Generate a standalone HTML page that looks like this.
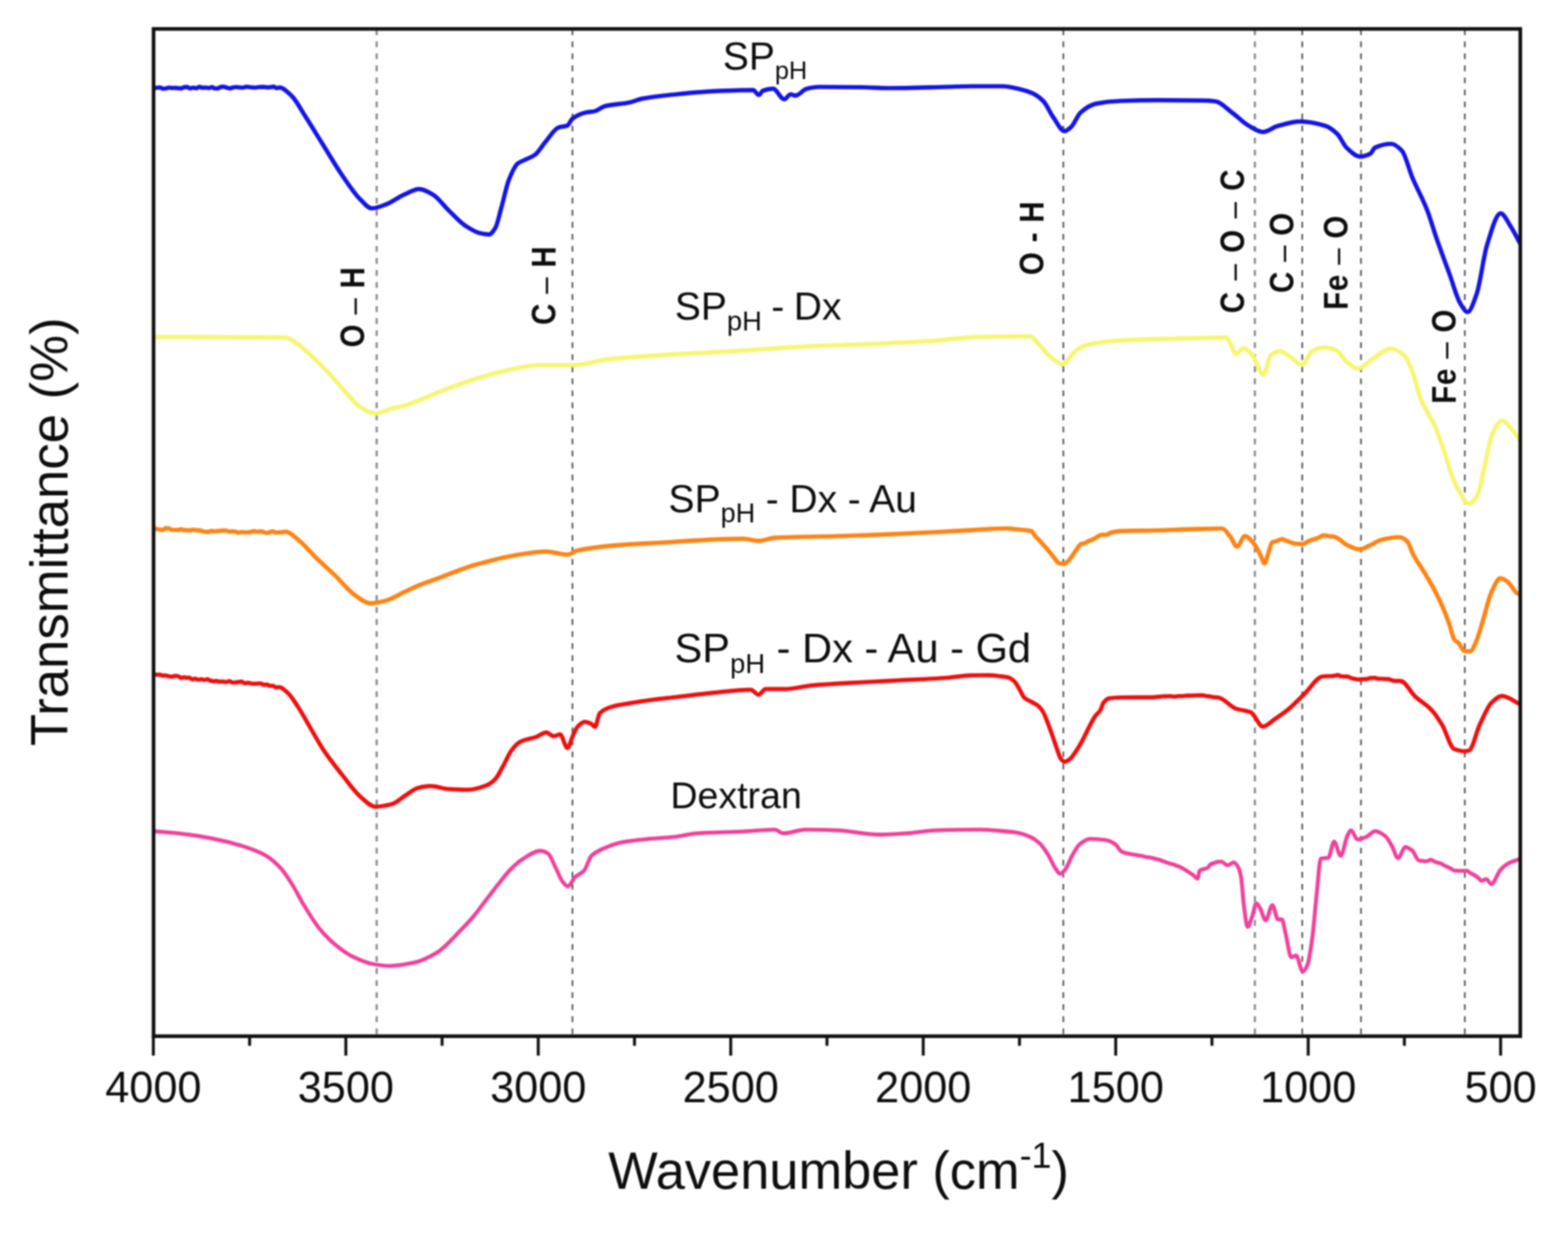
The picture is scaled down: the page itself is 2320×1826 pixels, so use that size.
<!DOCTYPE html>
<html><head><meta charset="utf-8"><title>FTIR spectra</title>
<style>html,body{margin:0;padding:0;background:#fff;}svg{display:block;}#w{filter:blur(1px);width:2320px;height:1826px;}text{font-family:"Liberation Sans",Arial,sans-serif;fill:#0d0d0d;}.pk{font-weight:bold;font-size:49.5px;}</style></head><body>
<div id="w"><svg width="2320" height="1826" viewBox="0 0 2320 1826">
<rect x="0" y="0" width="2320" height="1826" fill="#fff"/>
<line x1="557.3" y1="43.4" x2="557.3" y2="1531.3" stroke="#8a8a8a" stroke-width="3.2" stroke-dasharray="8.6 9.21"/>
<line x1="847.0" y1="43.4" x2="847.0" y2="1531.3" stroke="#505050" stroke-width="2.4" stroke-dasharray="8.6 9.21"/>
<line x1="1573.3" y1="43.4" x2="1573.3" y2="1531.3" stroke="#505050" stroke-width="2.4" stroke-dasharray="8.6 9.21"/>
<line x1="1856.7" y1="43.4" x2="1856.7" y2="1531.3" stroke="#8a8a8a" stroke-width="3.2" stroke-dasharray="8.6 9.21"/>
<line x1="1926.8" y1="43.4" x2="1926.8" y2="1531.3" stroke="#505050" stroke-width="2.4" stroke-dasharray="8.6 9.21"/>
<line x1="2013.7" y1="43.4" x2="2013.7" y2="1531.3" stroke="#505050" stroke-width="2.4" stroke-dasharray="8.6 9.21"/>
<line x1="2167.3" y1="43.4" x2="2167.3" y2="1531.3" stroke="#505050" stroke-width="2.4" stroke-dasharray="8.6 9.21"/>
<defs><clipPath id="cp"><rect x="227.2" y="42.8" width="2022.2" height="1490.5"/></clipPath></defs>
<g clip-path="url(#cp)" fill="none" stroke-width="6.4" stroke-linejoin="round" stroke-linecap="round">
<path d="M229.0,1230.0C241.4,1231.1 253.7,1232.0 266.1,1233.4C281.5,1235.1 296.8,1237.4 312.2,1240.3C327.5,1243.2 342.9,1247.0 358.2,1251.8C369.7,1255.4 381.3,1259.3 392.8,1265.7C400.5,1270.0 408.2,1277.0 415.9,1285.3C421.3,1291.1 426.6,1299.9 432.0,1308.3C438.1,1317.9 444.3,1330.6 450.4,1340.6C458.1,1353.0 465.7,1365.9 473.4,1375.1C481.1,1384.3 488.8,1391.9 496.5,1398.2C504.2,1404.5 511.8,1410.5 519.5,1414.3C531.0,1420.0 542.6,1425.3 554.1,1427.0C561.8,1428.2 569.4,1429.3 577.1,1429.3C588.6,1429.3 600.2,1427.0 611.7,1424.7C623.2,1422.4 634.8,1416.5 646.3,1409.7C657.8,1402.9 669.3,1389.0 680.8,1377.4C687.2,1370.9 693.6,1364.3 700.0,1356.7C706.1,1349.5 712.3,1340.7 718.4,1332.7C724.6,1324.7 730.7,1316.5 736.9,1308.8C743.0,1301.1 749.2,1292.7 755.3,1286.6C761.4,1280.5 767.6,1274.7 773.7,1271.0C782.3,1265.7 790.9,1259.0 799.5,1259.0C803.2,1259.0 806.9,1260.6 810.6,1262.7C814.3,1264.8 818.0,1275.9 821.7,1283.0C825.4,1290.0 829.0,1300.8 832.7,1305.1C835.2,1308.0 837.6,1311.5 840.1,1311.5C843.8,1311.5 847.5,1301.1 851.2,1297.7C855.5,1293.8 859.8,1293.1 864.1,1288.5C867.8,1284.6 871.4,1270.0 875.1,1266.4C881.2,1260.4 887.4,1258.0 893.5,1255.3C902.7,1251.3 912.0,1247.8 921.2,1246.1C933.5,1243.8 945.8,1242.7 958.1,1241.5C970.4,1240.3 982.6,1239.9 994.9,1238.7C1007.2,1237.5 1019.5,1234.0 1031.8,1233.2C1054.5,1231.6 1077.3,1231.5 1100.0,1230.4C1115.3,1229.6 1130.7,1227.6 1146.0,1227.6C1150.3,1227.6 1154.7,1233.2 1159.0,1233.2C1170.1,1233.2 1181.1,1227.6 1192.2,1227.6C1207.5,1227.6 1222.9,1228.1 1238.2,1228.6C1259.7,1229.3 1281.3,1235.0 1302.8,1235.0C1315.1,1235.0 1327.3,1234.0 1339.6,1233.2C1355.0,1232.2 1370.3,1229.0 1385.7,1228.6C1407.2,1228.0 1428.7,1227.6 1450.2,1227.6C1460.1,1227.6 1470.1,1228.7 1480.0,1229.5C1487.4,1230.1 1494.7,1230.6 1502.1,1231.7C1509.5,1232.8 1516.8,1235.1 1524.2,1238.3C1529.1,1240.4 1534.1,1244.1 1539.0,1248.7C1542.9,1252.4 1546.9,1258.7 1550.8,1264.9C1554.2,1270.3 1557.7,1279.2 1561.1,1284.1C1563.6,1287.6 1566.0,1292.9 1568.5,1292.9C1571.0,1292.9 1573.4,1289.7 1575.9,1287.0C1579.3,1283.2 1582.8,1272.3 1586.2,1266.4C1590.1,1259.6 1594.1,1251.7 1598.0,1248.7C1602.9,1244.9 1607.8,1241.3 1612.7,1241.3C1620.1,1241.3 1627.4,1241.9 1634.8,1242.8C1639.7,1243.4 1644.7,1245.7 1649.6,1248.7C1653.0,1250.8 1656.5,1259.1 1659.9,1260.5C1666.3,1263.1 1672.7,1263.8 1679.1,1264.9C1681.1,1265.2 1683.0,1265.5 1685.0,1265.8C1686.7,1266.0 1688.3,1266.3 1690.0,1266.6C1691.7,1267.0 1693.3,1267.7 1695.0,1268.0C1696.7,1268.3 1698.3,1268.4 1700.0,1268.7C1701.7,1268.9 1703.3,1269.2 1705.0,1269.6C1706.7,1269.9 1708.3,1270.6 1710.0,1271.0C1712.0,1271.5 1714.0,1271.7 1716.0,1272.3C1717.7,1272.8 1719.3,1273.9 1721.0,1274.6C1722.7,1275.2 1724.3,1275.6 1726.0,1276.2C1727.7,1276.7 1729.3,1277.4 1731.0,1277.9C1732.7,1278.3 1734.3,1278.5 1736.0,1279.0C1737.7,1279.5 1739.3,1280.5 1741.0,1281.1C1742.5,1281.7 1743.9,1282.0 1745.4,1282.6C1747.1,1283.3 1748.7,1284.4 1750.4,1285.3C1752.1,1286.2 1753.7,1287.1 1755.4,1288.2C1757.0,1289.1 1758.6,1290.3 1760.2,1291.4C1761.9,1292.5 1763.5,1293.5 1765.2,1294.7C1767.5,1296.4 1769.7,1300.3 1772.0,1300.3C1773.0,1300.3 1773.9,1289.3 1774.9,1288.5C1778.8,1285.3 1782.8,1286.5 1786.7,1284.1C1788.2,1283.2 1789.7,1279.7 1791.2,1279.0C1796.4,1276.5 1801.5,1274.8 1806.7,1274.8C1810.0,1274.8 1813.2,1280.4 1816.5,1280.4C1819.3,1280.4 1822.2,1276.2 1825.0,1276.2C1827.3,1276.2 1829.7,1279.4 1832.0,1283.2C1833.4,1285.5 1834.8,1290.3 1836.2,1297.3C1837.6,1304.3 1839.0,1329.0 1840.4,1339.4C1842.3,1353.2 1844.1,1371.7 1846.0,1371.7C1848.4,1371.7 1850.7,1361.4 1853.1,1354.9C1855.0,1349.7 1856.8,1336.6 1858.7,1336.6C1860.6,1336.6 1862.4,1340.7 1864.3,1343.6C1867.1,1348.0 1869.9,1361.9 1872.7,1361.9C1876.0,1361.9 1879.3,1339.4 1882.6,1339.4C1885.4,1339.4 1888.2,1360.5 1891.0,1360.5C1892.9,1360.5 1894.7,1360.5 1896.6,1360.5C1898.5,1360.5 1900.3,1374.3 1902.2,1381.6C1905.0,1392.7 1907.9,1416.7 1910.7,1416.7C1913.0,1416.7 1915.4,1413.9 1917.7,1413.9C1921.0,1413.9 1924.2,1437.8 1927.5,1437.8C1929.8,1437.8 1932.2,1433.1 1934.5,1427.9C1936.9,1422.6 1939.2,1405.5 1941.6,1388.6C1943.9,1371.9 1946.3,1339.7 1948.6,1318.3C1950.5,1301.1 1952.3,1271.1 1954.2,1270.6C1957.9,1269.6 1961.7,1270.1 1965.4,1269.2C1968.2,1268.5 1971.1,1245.3 1973.9,1245.3C1977.2,1245.3 1980.4,1266.4 1983.7,1266.4C1987.0,1266.4 1990.2,1243.5 1993.5,1236.9C1995.2,1233.4 1997.0,1228.6 1998.7,1228.6C2002.0,1228.6 2005.4,1242.3 2008.7,1242.3C2012.8,1242.3 2017.0,1240.3 2021.1,1238.6C2025.7,1236.8 2030.2,1229.9 2034.8,1229.9C2039.8,1229.9 2044.7,1233.5 2049.7,1237.3C2053.0,1239.9 2056.4,1246.6 2059.7,1252.3C2062.6,1257.3 2065.5,1269.7 2068.4,1269.7C2072.1,1269.7 2075.9,1253.5 2079.6,1253.5C2082.9,1253.5 2086.2,1256.0 2089.5,1258.5C2092.8,1261.0 2096.2,1272.9 2099.5,1273.4C2101.3,1273.7 2103.2,1273.6 2105.0,1273.9C2106.1,1274.0 2107.1,1274.7 2108.2,1274.7C2109.9,1274.7 2111.5,1274.2 2113.2,1273.8C2114.4,1273.5 2115.7,1272.2 2116.9,1272.2C2118.6,1272.2 2120.2,1273.8 2121.9,1274.5C2123.6,1275.2 2125.2,1275.8 2126.9,1276.4C2129.0,1277.1 2131.0,1277.5 2133.1,1278.4C2134.8,1279.1 2136.4,1280.6 2138.1,1281.4C2139.8,1282.2 2141.4,1282.6 2143.1,1283.3C2144.8,1284.1 2146.4,1285.2 2148.1,1286.1C2149.3,1286.8 2150.6,1288.2 2151.8,1288.3C2153.5,1288.4 2155.1,1288.4 2156.8,1288.5C2158.5,1288.5 2160.1,1288.5 2161.8,1288.6C2163.5,1288.6 2165.1,1288.7 2166.8,1288.7C2168.0,1288.7 2169.2,1288.3 2170.4,1288.3C2172.1,1288.3 2173.7,1290.7 2175.4,1291.8C2177.9,1293.3 2180.4,1294.2 2182.9,1295.8C2184.6,1296.9 2186.2,1298.2 2187.9,1299.6C2189.1,1300.7 2190.4,1303.3 2191.6,1303.3C2194.1,1303.3 2196.5,1300.8 2199.0,1300.8C2201.5,1300.8 2204.0,1308.2 2206.5,1308.2C2211.1,1308.2 2215.6,1291.9 2220.2,1287.1C2224.3,1282.7 2228.5,1279.2 2232.6,1277.1C2238.1,1274.3 2243.5,1273.0 2249.0,1271.0" stroke="#f0419a" stroke-width="5.8"/>
<path d="M229.0,998.4C231.5,998.4 234.0,998.4 236.5,998.4C238.0,998.4 239.5,999.7 241.0,999.7C242.5,999.7 244.0,999.7 245.5,999.7C247.0,999.7 248.5,1000.5 250.0,1000.8C251.5,1001.0 253.0,1001.3 254.5,1001.3C256.0,1001.3 257.5,1000.2 259.0,1000.2C260.5,1000.2 262.0,1000.3 263.5,1000.5C265.0,1000.6 266.5,1003.2 268.0,1003.2C269.5,1003.2 271.0,1002.0 272.5,1002.0C273.4,1002.0 274.4,1003.0 275.3,1003.0C276.8,1003.0 278.3,1002.7 279.8,1002.7C281.3,1002.7 282.8,1005.3 284.3,1005.3C285.8,1005.3 287.3,1004.3 288.8,1004.3C290.3,1004.3 291.8,1005.8 293.3,1005.8C294.8,1005.8 296.3,1005.2 297.8,1005.2C299.3,1005.2 300.8,1006.1 302.3,1006.1C303.8,1006.1 305.3,1005.2 306.8,1005.2C308.3,1005.2 309.8,1006.6 311.3,1007.0C312.8,1007.5 314.3,1008.1 315.8,1008.1C317.3,1008.1 318.8,1007.6 320.3,1007.6C321.8,1007.6 323.3,1008.7 324.8,1008.7C326.7,1008.7 328.7,1008.6 330.6,1008.6C332.1,1008.6 333.6,1009.3 335.1,1009.3C336.6,1009.3 338.1,1007.8 339.6,1007.8C341.1,1007.8 342.6,1010.0 344.1,1010.0C345.6,1010.0 347.1,1009.9 348.6,1009.7C350.1,1009.6 351.6,1009.3 353.1,1009.1C354.6,1009.0 356.1,1008.6 357.6,1008.6C359.1,1008.6 360.6,1011.2 362.1,1011.2C363.6,1011.2 365.1,1010.3 366.6,1010.3C368.1,1010.3 369.6,1010.9 371.1,1011.2C372.6,1011.4 374.1,1011.9 375.6,1011.9C377.1,1011.9 378.6,1011.7 380.1,1011.6C382.0,1011.5 384.0,1011.3 385.9,1011.3C387.4,1011.3 388.9,1013.4 390.4,1013.4C391.9,1013.4 393.4,1012.8 394.9,1012.8C396.4,1012.8 397.9,1014.9 399.4,1014.9C400.9,1014.9 402.4,1014.8 403.9,1014.8C405.4,1014.8 406.9,1017.1 408.4,1017.1C410.1,1017.1 411.8,1016.9 413.5,1016.9C417.8,1016.9 422.2,1022.1 426.5,1026.1C431.4,1030.7 436.3,1039.0 441.2,1046.4C447.3,1055.7 453.5,1067.3 459.6,1077.7C465.8,1088.2 471.9,1099.7 478.1,1109.0C487.3,1122.8 496.5,1134.3 505.7,1145.9C514.9,1157.6 524.2,1171.3 533.4,1179.1C540.8,1185.3 548.1,1193.8 555.5,1193.8C563.5,1193.8 571.4,1192.1 579.4,1190.1C586.3,1188.4 593.1,1181.2 600.0,1177.0C606.1,1173.2 612.3,1167.4 618.4,1165.9C624.6,1164.4 630.7,1163.1 636.9,1163.1C646.1,1163.1 655.3,1167.2 664.5,1167.7C673.7,1168.2 683.0,1168.7 692.2,1168.7C701.4,1168.7 710.6,1165.7 719.8,1162.2C724.1,1160.6 728.4,1157.3 732.7,1153.0C736.4,1149.3 740.1,1141.1 743.8,1134.6C748.1,1127.1 752.4,1116.2 756.7,1110.6C761.0,1105.0 765.3,1099.8 769.6,1097.7C777.6,1093.7 785.5,1093.2 793.5,1090.3C798.4,1088.5 803.4,1083.9 808.3,1083.9C812.0,1083.9 815.7,1089.4 819.4,1089.4C822.5,1089.4 825.5,1086.6 828.6,1086.6C832.3,1086.6 835.9,1106.9 839.6,1106.9C842.1,1106.9 844.5,1095.5 847.0,1090.3C849.5,1085.1 851.9,1078.2 854.4,1075.6C858.1,1071.8 861.7,1068.2 865.4,1068.2C868.5,1068.2 871.6,1069.6 874.7,1071.0C876.5,1071.8 878.4,1075.6 880.2,1075.6C882.7,1075.6 885.1,1057.8 887.6,1055.3C893.1,1049.7 898.6,1047.8 904.1,1046.1C913.3,1043.3 922.6,1042.2 931.8,1040.6C944.1,1038.5 956.4,1036.6 968.7,1035.0C979.1,1033.7 989.6,1032.7 1000.0,1031.5C1018.4,1029.4 1036.9,1027.0 1055.3,1025.2C1073.7,1023.4 1092.2,1020.6 1110.6,1020.6C1114.6,1020.6 1118.6,1027.9 1122.6,1027.9C1126.0,1027.9 1129.3,1019.6 1132.7,1019.6C1141.9,1019.6 1151.2,1019.6 1160.4,1019.6C1174.5,1019.6 1188.7,1015.3 1202.8,1014.1C1227.4,1012.0 1251.9,1010.9 1276.5,1009.5C1294.9,1008.5 1313.4,1007.7 1331.8,1006.7C1354.5,1005.5 1377.3,1004.6 1400.0,1003.0C1412.3,1002.1 1424.6,999.6 1436.9,999.4C1445.3,999.3 1453.6,999.2 1462.0,999.2C1468.0,999.2 1474.0,1000.0 1480.0,1000.6C1484.1,1001.0 1488.1,1001.4 1492.2,1002.5C1495.3,1003.3 1498.4,1005.9 1501.5,1009.0C1503.7,1011.2 1505.9,1015.7 1508.1,1019.3C1510.6,1023.4 1513.1,1030.2 1515.6,1032.5C1519.3,1035.9 1523.1,1036.8 1526.8,1039.0C1529.9,1040.8 1533.1,1042.0 1536.2,1044.6C1538.7,1046.6 1541.2,1049.9 1543.7,1054.0C1545.9,1057.7 1548.1,1064.3 1550.3,1069.9C1552.8,1076.3 1555.3,1083.5 1557.8,1090.5C1560.0,1096.6 1562.1,1103.5 1564.3,1109.3C1566.2,1114.3 1568.0,1121.3 1569.9,1123.3C1571.8,1125.3 1573.6,1127.1 1575.5,1127.1C1578.0,1127.1 1580.5,1125.1 1583.0,1123.3C1586.1,1121.1 1589.3,1115.7 1592.4,1111.1C1595.5,1106.5 1598.7,1101.0 1601.8,1095.2C1604.9,1089.5 1608.0,1082.4 1611.1,1076.5C1614.2,1070.6 1617.4,1063.9 1620.5,1059.6C1623.0,1056.2 1625.5,1055.1 1628.0,1051.2C1629.6,1048.7 1631.1,1041.9 1632.7,1040.0C1635.5,1036.5 1638.3,1033.9 1641.1,1033.4C1646.7,1032.5 1652.4,1032.1 1658.0,1032.0C1674.0,1031.8 1690.0,1032.0 1706.0,1031.8C1708.5,1031.7 1710.9,1031.4 1713.4,1031.2C1715.4,1031.0 1717.4,1030.6 1719.4,1030.5C1721.4,1030.4 1723.4,1030.4 1725.4,1030.3C1727.4,1030.3 1729.4,1030.2 1731.4,1030.2C1733.4,1030.2 1735.4,1030.9 1737.4,1030.9C1739.4,1030.9 1741.4,1030.0 1743.4,1030.0C1745.4,1030.0 1747.4,1030.0 1749.4,1030.0C1751.4,1030.0 1753.4,1029.4 1755.4,1029.4C1757.4,1029.4 1759.4,1029.4 1761.4,1029.4C1763.4,1029.4 1765.4,1029.2 1767.4,1029.1C1769.4,1029.0 1771.4,1028.8 1773.4,1028.8C1774.9,1028.8 1776.4,1028.8 1777.9,1028.8C1779.9,1028.8 1781.9,1029.4 1783.9,1029.7C1785.9,1030.0 1787.9,1030.2 1789.9,1030.5C1791.9,1030.8 1793.9,1031.5 1795.9,1031.7C1798.0,1031.8 1800.0,1031.8 1802.1,1032.0C1811.0,1032.8 1819.8,1045.5 1828.7,1048.6C1836.1,1051.2 1843.4,1051.0 1850.8,1054.1C1856.7,1056.6 1862.6,1075.1 1868.5,1075.1C1874.4,1075.1 1880.3,1068.0 1886.2,1064.1C1892.8,1059.7 1899.5,1055.1 1906.1,1049.7C1914.2,1043.1 1922.3,1034.2 1930.4,1026.4C1939.3,1017.9 1948.1,1001.8 1957.0,1001.0C1959.7,1000.7 1962.3,1000.6 1965.0,1000.5C1966.7,1000.5 1968.3,1000.5 1970.0,1000.5C1971.7,1000.4 1973.3,1000.1 1975.0,999.8C1976.4,999.6 1977.7,998.8 1979.1,998.8C1980.8,998.8 1982.4,1000.5 1984.1,1000.7C1985.8,1000.9 1987.4,1001.1 1989.1,1001.1C1990.8,1001.1 1992.4,1001.1 1994.1,1001.2C1995.8,1001.2 1997.4,1002.9 1999.1,1003.4C2000.8,1004.0 2002.4,1004.3 2004.1,1004.6C2005.8,1005.0 2007.4,1005.5 2009.1,1005.5C2010.1,1005.5 2011.2,1005.4 2012.2,1005.4C2013.9,1005.3 2015.5,1005.1 2017.2,1005.0C2018.9,1004.9 2020.5,1004.9 2022.2,1004.8C2023.9,1004.7 2025.5,1003.5 2027.2,1003.4C2029.6,1003.3 2032.0,1003.2 2034.4,1003.2C2036.1,1003.2 2037.7,1004.3 2039.4,1004.4C2041.1,1004.5 2042.7,1004.5 2044.4,1004.5C2046.1,1004.5 2047.7,1004.5 2049.4,1004.6C2051.1,1004.6 2052.7,1004.6 2054.4,1004.8C2056.1,1004.9 2057.7,1006.4 2059.4,1006.8C2061.1,1007.2 2062.7,1007.6 2064.4,1007.6C2066.9,1007.6 2069.5,1007.6 2072.0,1007.6C2079.4,1007.6 2086.7,1024.1 2094.1,1030.9C2102.2,1038.4 2110.3,1042.2 2118.4,1050.8C2123.6,1056.3 2128.7,1064.3 2133.9,1072.9C2139.8,1082.7 2145.7,1106.1 2151.6,1108.3C2156.8,1110.3 2161.9,1111.6 2167.1,1111.6C2169.3,1111.6 2171.5,1111.1 2173.7,1110.5C2178.9,1109.1 2184.0,1083.9 2189.2,1072.9C2195.1,1060.4 2201.0,1045.3 2206.9,1039.7C2212.1,1034.8 2217.2,1029.8 2222.4,1029.8C2231.3,1029.8 2240.1,1037.9 2249.0,1042.0" stroke="#ee0f0f" stroke-width="6.2"/>
<path d="M229.0,782.1C231.5,782.7 234.0,783.6 236.5,783.8C238.0,783.9 239.5,784.0 241.0,784.0C242.5,784.0 244.0,781.5 245.5,781.5C247.0,781.5 248.5,781.6 250.0,781.8C251.5,782.0 253.0,784.2 254.5,784.2C256.0,784.2 257.5,784.1 259.0,784.1C260.5,784.1 262.0,784.1 263.5,784.1C265.0,784.1 266.5,783.3 268.0,783.3C269.5,783.3 271.0,784.2 272.5,784.4C274.0,784.5 275.5,784.5 277.0,784.6C278.5,784.6 280.0,784.7 281.5,784.7C283.0,784.7 284.5,783.6 286.0,783.6C287.5,783.6 289.0,784.6 290.5,784.6C292.0,784.7 293.5,784.7 295.0,784.7C296.5,784.8 298.0,785.5 299.5,785.9C301.0,786.3 302.5,786.9 304.0,786.9C305.5,787.0 307.0,787.0 308.5,787.0C309.7,787.0 311.0,785.8 312.2,785.8C313.7,785.8 315.2,786.1 316.7,786.1C318.2,786.1 319.7,786.0 321.2,785.9C322.7,785.9 324.2,785.7 325.7,785.5C327.2,785.4 328.7,785.0 330.2,785.0C331.7,785.0 333.2,785.0 334.7,785.1C336.2,785.2 337.7,786.6 339.2,786.6C340.7,786.6 342.2,786.3 343.7,786.3C345.2,786.3 346.7,786.4 348.2,786.6C349.7,786.8 351.2,788.3 352.7,788.3C354.2,788.3 355.7,787.3 357.2,787.3C358.7,787.3 360.2,787.6 361.7,787.6C363.6,787.6 365.6,787.6 367.5,787.6C369.0,787.6 370.5,787.0 372.0,786.7C373.5,786.5 375.0,786.0 376.5,786.0C378.0,786.0 379.5,786.9 381.0,786.9C382.5,786.9 384.0,786.2 385.5,786.2C387.0,786.2 388.5,786.9 390.0,787.3C391.5,787.7 393.0,788.7 394.5,788.7C396.0,788.7 397.5,788.0 399.0,787.6C400.5,787.2 402.0,786.1 403.5,786.1C405.0,786.1 406.5,788.1 408.0,788.1C409.5,788.1 411.0,787.9 412.5,787.8C414.0,787.7 415.5,787.6 417.0,787.5C418.9,787.3 420.9,786.7 422.8,786.7C428.9,786.7 435.1,793.9 441.2,798.7C450.4,805.9 459.6,817.5 468.8,826.4C478.0,835.3 487.3,843.3 496.5,852.2C505.7,861.1 514.9,873.4 524.1,879.8C532.1,885.4 540.1,892.7 548.1,892.7C555.5,892.7 562.8,890.8 570.2,889.0C579.4,886.8 588.7,880.4 597.9,876.1C605.3,872.7 612.6,869.0 620.0,866.0C628.7,862.4 637.4,859.6 646.1,856.4C665.3,849.4 684.5,841.2 703.7,835.7C722.9,830.2 742.1,824.9 761.3,821.8C776.7,819.3 792.0,816.1 807.4,816.1C818.1,816.1 828.9,820.7 839.6,820.7C844.2,820.7 848.9,816.0 853.5,814.9C868.8,811.2 884.2,809.5 899.5,808.0C922.6,805.8 945.6,804.7 968.7,803.4C1012.5,801.0 1056.2,797.3 1100.0,797.3C1107.7,797.3 1115.3,800.3 1123.0,800.3C1130.7,800.3 1138.3,796.1 1146.0,795.7C1176.7,794.1 1207.5,794.3 1238.2,793.4C1268.9,792.5 1299.7,791.3 1330.4,790.0C1361.1,788.7 1391.9,786.8 1422.6,785.3C1445.6,784.1 1468.7,781.9 1491.7,781.9C1494.5,781.9 1497.2,782.6 1500.0,782.9C1508.6,783.9 1517.2,783.6 1525.8,785.8C1527.5,786.2 1529.3,790.4 1531.0,792.4C1534.4,796.4 1537.9,799.7 1541.3,803.5C1544.7,807.3 1548.2,811.2 1551.6,815.3C1554.6,818.8 1557.5,822.9 1560.5,826.4C1562.5,828.7 1564.4,832.2 1566.4,833.0C1568.6,833.8 1570.8,834.5 1573.0,834.5C1574.7,834.5 1576.5,833.3 1578.2,832.3C1580.4,831.0 1582.6,827.7 1584.8,824.9C1587.5,821.5 1590.2,816.7 1592.9,813.1C1595.1,810.2 1597.3,805.7 1599.5,805.0C1601.2,804.4 1602.8,804.5 1604.5,804.0C1606.5,803.4 1608.6,801.5 1610.6,800.6C1612.3,799.9 1613.9,799.4 1615.6,798.7C1617.3,798.0 1618.9,797.2 1620.6,796.3C1622.2,795.4 1623.7,793.9 1625.3,793.2C1627.0,792.4 1628.6,791.4 1630.3,791.4C1632.0,791.4 1633.6,791.5 1635.3,791.5C1637.0,791.5 1638.6,790.8 1640.3,790.1C1641.5,789.6 1642.6,788.3 1643.8,788.0C1649.2,786.6 1654.6,786.0 1660.0,785.8C1676.3,785.2 1692.7,785.3 1709.0,784.9C1727.4,784.5 1745.9,783.5 1764.3,783.0C1779.1,782.6 1793.8,782.1 1808.6,782.1C1812.3,782.1 1815.9,788.9 1819.6,793.2C1823.3,797.5 1827.0,808.8 1830.7,808.8C1834.4,808.8 1838.1,793.2 1841.8,793.2C1846.7,793.2 1851.6,800.1 1856.5,806.1C1859.3,809.6 1862.2,816.2 1865.0,821.5C1867.1,825.4 1869.1,833.7 1871.2,833.7C1872.9,833.7 1874.5,824.7 1876.2,820.0C1878.2,814.3 1880.3,803.3 1882.3,802.4C1884.0,801.7 1885.6,801.7 1887.3,801.2C1889.0,800.7 1890.6,799.8 1892.3,799.2C1893.9,798.7 1895.4,797.8 1897.0,797.8C1898.7,797.8 1900.3,799.1 1902.0,799.7C1903.7,800.3 1905.3,800.9 1907.0,801.5C1908.6,802.1 1910.2,802.8 1911.8,803.3C1913.5,803.8 1915.1,804.6 1916.8,804.6C1918.5,804.6 1920.1,804.6 1921.8,804.6C1923.4,804.6 1924.9,805.2 1926.5,805.2C1928.2,805.2 1929.8,804.2 1931.5,803.5C1933.2,802.8 1934.8,801.4 1936.5,800.6C1938.1,799.8 1939.7,799.2 1941.3,798.7C1943.0,798.2 1944.6,797.9 1946.3,797.4C1948.0,796.9 1949.6,796.2 1951.3,795.5C1953.5,794.6 1955.7,792.3 1957.9,792.3C1959.6,792.3 1961.2,792.6 1962.9,792.8C1964.6,793.0 1966.2,793.4 1967.9,793.6C1969.9,793.8 1971.8,793.9 1973.8,794.2C1980.7,795.3 1987.7,804.3 1994.6,807.3C2000.1,809.7 2005.7,812.9 2011.2,812.9C2016.3,812.9 2021.3,809.4 2026.4,807.3C2031.9,805.0 2037.5,800.3 2043.0,799.0C2052.2,796.8 2061.4,794.9 2070.6,794.9C2074.3,794.9 2078.0,797.4 2081.7,800.4C2084.9,803.0 2088.1,815.3 2091.3,821.2C2095.9,829.8 2100.6,835.7 2105.2,843.3C2109.8,850.9 2114.4,858.3 2119.0,866.8C2123.6,875.3 2128.2,884.1 2132.8,894.4C2136.5,902.6 2140.2,912.0 2143.9,922.1C2146.7,929.7 2149.4,943.8 2152.2,947.0C2154.0,949.1 2155.9,949.4 2157.7,951.1C2160.9,954.1 2164.2,963.6 2167.4,963.6C2170.2,963.6 2172.9,963.6 2175.7,963.6C2178.5,963.6 2181.2,955.7 2184.0,949.7C2187.7,941.8 2191.3,927.1 2195.0,915.2C2198.7,903.2 2202.4,885.9 2206.1,877.8C2210.7,867.7 2215.3,855.7 2219.9,855.7C2223.6,855.7 2227.3,858.6 2231.0,861.2C2235.6,864.4 2240.2,875.6 2244.8,877.8C2246.2,878.5 2247.6,878.7 2249.0,879.2" stroke="#fd8414" stroke-width="6.4"/>
<path d="M229.0,498.6C293.6,498.9 358.2,498.7 422.8,499.5C427.7,499.6 432.6,503.9 437.5,506.9C444.9,511.4 452.2,518.6 459.6,525.3C468.8,533.7 478.1,543.2 487.3,553.0C496.5,562.8 505.8,574.5 515.0,584.3C521.1,590.8 527.3,599.0 533.4,602.7C540.8,607.1 548.1,611.9 555.5,611.9C563.5,611.9 571.4,606.7 579.4,604.6C586.3,602.8 593.1,601.8 600.0,599.8C615.3,595.4 630.7,587.2 646.0,581.4C665.2,574.1 684.5,566.4 703.7,560.6C722.9,554.8 742.1,549.3 761.3,545.7C772.8,543.5 784.4,540.4 795.9,540.4C812.8,540.4 829.6,540.4 846.5,540.4C864.2,540.4 881.8,533.8 899.5,531.8C922.6,529.2 945.6,527.7 968.7,526.1C1012.5,523.1 1056.2,521.5 1100.0,518.8C1130.7,516.9 1161.5,514.1 1192.2,512.6C1222.9,511.1 1253.6,510.5 1284.3,509.2C1315.0,507.9 1345.8,506.5 1376.5,504.6C1399.5,503.1 1422.6,499.4 1445.6,498.8C1471.7,498.1 1497.9,497.6 1524.0,497.6C1528.6,497.6 1533.2,505.8 1537.8,510.3C1543.9,516.3 1550.1,525.4 1556.2,529.9C1561.6,533.9 1567.0,539.1 1572.4,539.1C1576.2,539.1 1580.1,531.6 1583.9,527.6C1586.3,525.1 1588.6,521.6 1591.0,519.8C1596.5,515.5 1602.1,512.0 1607.6,510.6C1623.0,506.8 1638.3,505.1 1653.7,504.1C1678.3,502.6 1702.9,502.0 1727.5,501.3C1756.4,500.5 1785.2,499.5 1814.1,499.5C1815.9,499.5 1817.8,504.1 1819.6,506.9C1822.7,511.6 1825.7,523.5 1828.8,523.5C1832.5,523.5 1836.2,515.2 1839.9,515.2C1844.2,515.2 1848.5,520.7 1852.8,525.3C1858.3,531.2 1863.9,554.8 1869.4,554.8C1873.1,554.8 1876.8,528.1 1880.5,525.3C1884.8,522.1 1889.1,519.8 1893.4,519.8C1898.3,519.8 1903.2,524.3 1908.1,527.1C1914.2,530.6 1920.4,540.0 1926.5,540.0C1931.4,540.0 1936.4,522.5 1941.3,519.8C1946.8,516.8 1952.4,514.2 1957.9,514.2C1964.1,514.2 1970.2,515.7 1976.4,517.7C1981.9,519.5 1987.3,531.4 1992.8,535.7C1998.3,540.0 2003.7,545.6 2009.2,545.6C2015.8,545.6 2022.3,536.5 2028.9,532.5C2038.7,526.5 2048.6,516.1 2058.4,516.1C2064.9,516.1 2071.5,520.4 2078.0,525.9C2082.4,529.6 2086.7,542.5 2091.1,553.8C2094.9,563.7 2098.8,582.0 2102.6,591.5C2109.7,609.2 2116.9,616.1 2124.0,632.5C2128.3,642.5 2132.7,655.7 2137.0,668.5C2140.8,679.8 2144.7,694.9 2148.5,704.6C2151.8,713.0 2155.1,720.4 2158.4,725.9C2163.3,734.1 2168.2,745.6 2173.1,745.6C2177.5,745.6 2181.8,739.7 2186.2,732.5C2189.5,727.1 2192.7,706.6 2196.0,693.1C2199.8,677.2 2203.7,652.3 2207.5,643.9C2212.4,633.0 2217.4,622.6 2222.3,622.6C2227.8,622.6 2233.2,631.2 2238.7,637.4C2242.1,641.3 2245.6,647.2 2249.0,652.1" stroke="#f6f672" stroke-width="6.4"/>
<path d="M229.0,130.4C231.5,130.1 234.0,129.4 236.5,129.4C238.0,129.4 239.5,131.2 241.0,131.2C242.5,131.2 244.0,131.1 245.5,130.9C247.0,130.8 248.5,129.6 250.0,129.6C251.5,129.6 253.0,130.2 254.5,130.2C256.0,130.2 257.5,130.0 259.0,130.0C260.5,130.0 262.0,130.4 263.5,130.5C265.0,130.6 266.5,130.8 268.0,130.8C269.5,130.8 271.0,129.1 272.5,129.0C274.0,128.9 275.5,128.8 277.0,128.8C278.5,128.8 280.0,130.8 281.5,130.8C283.0,130.8 284.5,129.7 286.0,129.7C287.5,129.7 289.0,130.6 290.5,130.6C292.0,130.6 293.5,128.5 295.0,128.5C296.7,128.5 298.3,129.8 300.0,129.8C301.5,129.8 303.0,129.6 304.5,129.6C306.0,129.6 307.5,130.3 309.0,130.3C310.5,130.3 312.0,129.0 313.5,129.0C315.0,129.0 316.5,130.9 318.0,130.9C319.5,130.9 321.0,130.9 322.5,130.8C324.0,130.7 325.5,128.5 327.0,128.5C328.5,128.5 330.0,128.5 331.5,128.5C333.0,128.5 334.5,129.4 336.0,129.8C337.5,130.2 339.0,130.8 340.5,130.8C342.0,130.8 343.5,129.6 345.0,129.3C346.5,129.1 348.0,128.9 349.5,128.9C351.0,128.9 352.5,129.3 354.0,129.4C356.0,129.5 358.0,129.6 360.0,129.6C361.5,129.6 363.0,128.4 364.5,128.4C366.0,128.4 367.5,128.7 369.0,128.9C370.5,129.0 372.0,129.3 373.5,129.4C375.0,129.5 376.5,129.6 378.0,129.6C379.5,129.6 381.0,128.9 382.5,128.9C384.0,128.9 385.5,128.9 387.0,128.8C388.5,128.8 390.0,128.8 391.5,128.8C393.0,128.8 394.5,129.4 396.0,129.4C397.5,129.4 399.0,129.2 400.5,129.0C402.0,128.8 403.5,128.3 405.0,128.3C406.5,128.3 408.0,130.4 409.5,130.4C410.8,130.4 412.2,129.5 413.5,129.5C419.7,129.5 425.8,136.5 432.0,142.4C438.1,148.2 444.3,160.5 450.4,170.0C459.6,184.2 468.8,199.6 478.0,214.3C487.2,229.1 496.5,245.1 505.7,258.5C514.9,271.9 524.2,286.5 533.4,295.4C538.9,300.7 544.5,308.3 550.0,308.3C556.7,308.3 563.5,305.2 570.2,302.8C579.4,299.5 588.7,292.0 597.9,288.0C605.4,284.8 612.8,279.7 620.3,279.7C627.1,279.7 633.8,284.1 640.6,288.0C648.6,292.6 656.5,304.4 664.5,312.0C672.5,319.7 680.5,328.8 688.5,334.0C695.9,338.8 703.2,343.7 710.6,345.2C714.9,346.1 719.2,347.0 723.5,347.0C726.6,347.0 729.6,342.5 732.7,337.8C735.8,333.0 738.9,317.4 742.0,306.5C745.7,293.6 749.3,275.1 753.0,266.0C757.3,255.3 761.6,245.4 765.9,242.0C769.6,239.1 773.3,238.3 777.0,236.4C781.9,233.9 786.8,232.5 791.7,229.0C796.6,225.5 801.6,216.4 806.5,210.6C813.2,202.7 820.0,190.8 826.7,188.5C831.0,187.0 835.3,187.4 839.6,185.7C842.1,184.7 844.5,177.4 847.0,175.6C853.8,170.6 860.5,167.8 867.3,166.4C871.6,165.5 875.9,165.5 880.2,164.5C885.1,163.4 890.1,158.3 895.0,157.1C907.3,154.0 919.5,154.2 931.8,151.6C937.9,150.3 944.1,147.2 950.2,146.0C966.8,142.8 983.4,141.3 1000.0,139.6C1018.4,137.7 1036.9,135.8 1055.3,135.0C1075.0,134.1 1094.6,133.2 1114.3,133.2C1117.1,133.2 1119.8,140.6 1122.6,140.6C1124.7,140.6 1126.9,134.8 1129.0,134.1C1133.9,132.4 1138.9,131.3 1143.8,131.3C1149.3,131.3 1154.9,147.0 1160.4,147.0C1163.5,147.0 1166.5,139.6 1169.6,139.6C1172.1,139.6 1174.5,141.5 1177.0,141.5C1182.5,141.5 1188.0,132.6 1193.5,131.3C1199.7,129.8 1205.8,128.6 1212.0,128.6C1233.5,128.6 1255.0,128.8 1276.5,129.1C1288.8,129.3 1301.1,130.4 1313.4,130.4C1342.3,130.4 1371.1,129.3 1400.0,128.6C1412.3,128.3 1424.6,127.6 1436.9,127.6C1452.3,127.6 1467.6,127.6 1483.0,127.6C1492.2,127.6 1501.4,130.1 1510.6,132.3C1516.7,133.7 1522.9,135.7 1529.0,138.7C1533.9,141.1 1538.9,144.7 1543.8,149.8C1548.7,154.8 1553.6,166.8 1558.5,173.7C1564.0,181.4 1569.6,194.0 1575.1,194.0C1578.2,194.0 1581.2,191.0 1584.3,188.5C1589.2,184.4 1594.1,170.6 1599.0,166.4C1606.4,160.0 1613.8,155.0 1621.2,153.5C1633.5,151.1 1645.7,149.8 1658.0,149.4C1676.5,148.7 1694.9,148.3 1713.4,148.3C1734.9,148.3 1756.4,148.5 1777.9,148.8C1784.5,148.9 1791.1,149.2 1797.7,149.9C1806.5,150.8 1815.4,161.2 1824.2,167.6C1831.6,173.0 1839.0,181.0 1846.4,185.3C1853.8,189.6 1861.1,195.3 1868.5,195.3C1875.9,195.3 1883.2,188.4 1890.6,186.4C1901.7,183.4 1912.7,179.8 1923.8,179.8C1936.3,179.8 1948.9,182.6 1961.4,186.4C1967.3,188.2 1973.1,192.9 1979.0,198.6C1983.4,202.9 1987.9,214.3 1992.3,218.5C1998.9,224.8 2005.6,231.7 2012.2,231.7C2017.4,231.7 2022.5,229.9 2027.7,227.3C2029.9,226.2 2032.2,219.5 2034.4,218.5C2042.5,214.8 2050.6,212.9 2058.7,212.9C2063.9,212.9 2069.0,217.6 2074.2,222.9C2079.4,228.2 2084.5,250.4 2089.7,262.7C2097.1,280.3 2104.4,292.4 2111.8,311.4C2116.2,322.8 2120.6,338.5 2125.0,351.2C2131.7,370.5 2138.3,388.2 2145.0,406.5C2150.1,420.6 2155.3,440.1 2160.4,448.5C2164.1,454.5 2167.8,461.8 2171.5,461.8C2175.9,461.8 2180.4,447.5 2184.8,435.2C2190.0,420.8 2195.1,378.5 2200.3,362.2C2206.9,341.2 2213.6,315.8 2220.2,315.8C2225.3,315.8 2230.5,327.9 2235.6,335.7C2240.1,342.5 2244.5,351.9 2249.0,360.0" stroke="#1414e6" stroke-width="6.4"/>
</g>
<rect x="227.2" y="42.8" width="2022.2" height="1490.5" fill="none" stroke="#111" stroke-width="5.4"/>
<line x1="226.9" y1="1533.3" x2="226.9" y2="1562.0" stroke="#111" stroke-width="4.4"/>
<text x="226.9" y="1631.2" font-size="64" text-anchor="middle">4000</text>
<line x1="369.3" y1="1533.3" x2="369.3" y2="1547.5" stroke="#111" stroke-width="4.4"/>
<line x1="511.7" y1="1533.3" x2="511.7" y2="1562.0" stroke="#111" stroke-width="4.4"/>
<text x="511.7" y="1631.2" font-size="64" text-anchor="middle">3500</text>
<line x1="654.1" y1="1533.3" x2="654.1" y2="1547.5" stroke="#111" stroke-width="4.4"/>
<line x1="796.4" y1="1533.3" x2="796.4" y2="1562.0" stroke="#111" stroke-width="4.4"/>
<text x="796.4" y="1631.2" font-size="64" text-anchor="middle">3000</text>
<line x1="938.8" y1="1533.3" x2="938.8" y2="1547.5" stroke="#111" stroke-width="4.4"/>
<line x1="1081.2" y1="1533.3" x2="1081.2" y2="1562.0" stroke="#111" stroke-width="4.4"/>
<text x="1081.2" y="1631.2" font-size="64" text-anchor="middle">2500</text>
<line x1="1223.6" y1="1533.3" x2="1223.6" y2="1547.5" stroke="#111" stroke-width="4.4"/>
<line x1="1366.0" y1="1533.3" x2="1366.0" y2="1562.0" stroke="#111" stroke-width="4.4"/>
<text x="1366.0" y="1631.2" font-size="64" text-anchor="middle">2000</text>
<line x1="1508.4" y1="1533.3" x2="1508.4" y2="1547.5" stroke="#111" stroke-width="4.4"/>
<line x1="1650.8" y1="1533.3" x2="1650.8" y2="1562.0" stroke="#111" stroke-width="4.4"/>
<text x="1650.8" y="1631.2" font-size="64" text-anchor="middle">1500</text>
<line x1="1793.2" y1="1533.3" x2="1793.2" y2="1547.5" stroke="#111" stroke-width="4.4"/>
<line x1="1935.6" y1="1533.3" x2="1935.6" y2="1562.0" stroke="#111" stroke-width="4.4"/>
<text x="1935.6" y="1631.2" font-size="64" text-anchor="middle">1000</text>
<line x1="2077.9" y1="1533.3" x2="2077.9" y2="1547.5" stroke="#111" stroke-width="4.4"/>
<line x1="2220.3" y1="1533.3" x2="2220.3" y2="1562.0" stroke="#111" stroke-width="4.4"/>
<text x="2220.3" y="1631.2" font-size="64" text-anchor="middle">500</text>
<text x="900" y="1758.5" font-size="77.5">Wavenumber (cm<tspan font-size="53" dy="-30.7">-1</tspan><tspan dy="30.7">)</tspan></text>
<text transform="translate(100.3,1104) rotate(-90)" font-size="78">Transmittance (%)</text>
<text x="1069.5" y="102.6" font-size="57.7" word-spacing="0.0">SP<tspan font-size="37.5" dy="14.0">pH</tspan><tspan dy="-14.0"></tspan></text>
<text x="998.6" y="473.4" font-size="57.7" word-spacing="-2.0">SP<tspan font-size="40.5" dy="15.5">pH</tspan><tspan dy="-15.5"> - Dx</tspan></text>
<text x="989.1" y="758.1" font-size="57.8" word-spacing="-0.4">SP<tspan font-size="40.0" dy="15.0">pH</tspan><tspan dy="-15.0"> - Dx - Au</tspan></text>
<text x="998.0" y="979.8" font-size="61.6" word-spacing="0.0">SP<tspan font-size="40.5" dy="16.0">pH</tspan><tspan dy="-16.0"> - Dx - Au - Gd</tspan></text>
<text x="992" y="1196.3" font-size="55.5">Dextran</text>
<text class="pk" letter-spacing="1.4" transform="translate(539.0,514.0) rotate(-90) scale(0.88,1)">O <tspan font-weight="normal">–</tspan> H</text>
<text class="pk" letter-spacing="1.4" transform="translate(822.3,480.8) rotate(-90) scale(0.88,1)">C <tspan font-weight="normal">–</tspan> H</text>
<text class="pk" letter-spacing="1.4" transform="translate(1544.2,407.0) rotate(-90) scale(0.88,1)">O - H</text>
<text class="pk" letter-spacing="2.7" transform="translate(1841.4,463.4) rotate(-90) scale(0.88,1)">C <tspan font-weight="normal">–</tspan> O <tspan font-weight="normal">–</tspan> C</text>
<text class="pk" letter-spacing="1.4" transform="translate(1914.1,433.6) rotate(-90) scale(0.88,1)">C <tspan font-weight="normal">–</tspan> O</text>
<text class="pk" letter-spacing="1.4" transform="translate(1993.7,458.5) rotate(-90) scale(0.88,1)">Fe <tspan font-weight="normal">–</tspan> O</text>
<text class="pk" letter-spacing="1.4" transform="translate(2153.7,597.5) rotate(-90) scale(0.88,1)">Fe <tspan font-weight="normal">–</tspan> O</text>
</svg></div></body></html>
